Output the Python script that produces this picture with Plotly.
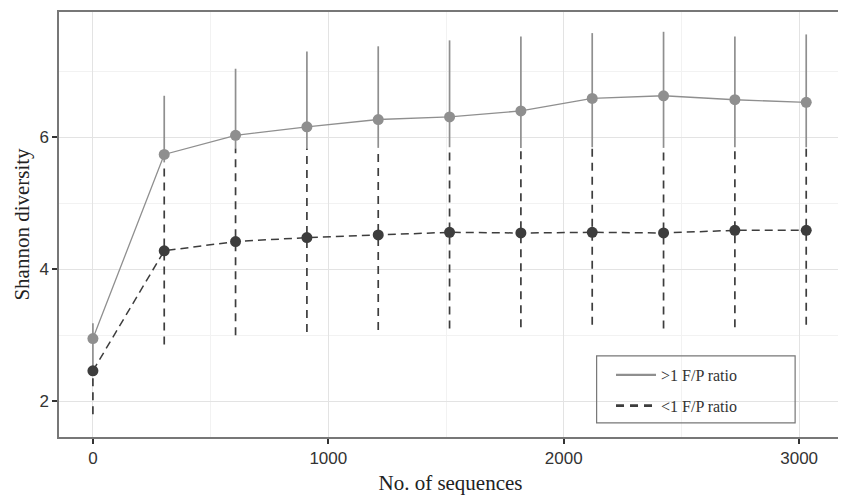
import plotly.graph_objects as go

# Data
seqs = [0, 303, 606, 909, 1212, 1515, 1818, 2121, 2424, 2727, 3030]
high_mean = [2.95, 5.74, 6.03, 6.16, 6.27, 6.31, 6.40, 6.59, 6.63, 6.57, 6.53]
high_upper = [3.18, 6.63, 7.04, 7.30, 7.38, 7.47, 7.53, 7.58, 7.60, 7.53, 7.56]
high_lower = [2.50, 5.62, 5.83, 5.83, 5.84, 5.85, 5.84, 5.85, 5.84, 5.85, 5.85]
low_mean = [2.46, 4.28, 4.42, 4.48, 4.52, 4.56, 4.55, 4.56, 4.55, 4.59, 4.59]
low_upper = [2.50, 5.62, 5.83, 5.83, 5.84, 5.85, 5.84, 5.85, 5.84, 5.85, 5.85]
low_lower = [1.80, 2.86, 3.00, 3.05, 3.08, 3.10, 3.12, 3.16, 3.10, 3.12, 3.16]
series_names = [">1 F/P ratio", "&lt;1 F/P ratio"]

GRAY = "#8f8f8f"
DARK = "#3d3d3d"


def segs(xs, lo, hi):
    X, Y = [], []
    for xi, a, b in zip(xs, lo, hi):
        X += [xi, xi, None]
        Y += [a, b, None]
    return X, Y


fig = go.Figure()

# error bars
ex, ey = segs(seqs, high_lower, high_upper)
fig.add_trace(go.Scatter(x=ex, y=ey, mode="lines", line=dict(color=GRAY, width=1.7),
                         showlegend=False, hoverinfo="skip"))
ex, ey = segs(seqs, low_lower, low_upper)
fig.add_trace(go.Scatter(x=ex, y=ey, mode="lines", line=dict(color=DARK, width=1.7, dash="8px,6px"),
                         showlegend=False, hoverinfo="skip"))

# lines + points
fig.add_trace(go.Scatter(x=seqs, y=high_mean, mode="lines+markers",
                         line=dict(color=GRAY, width=1.3),
                         marker=dict(color=GRAY, size=11, symbol="circle"),
                         showlegend=False))
fig.add_trace(go.Scatter(x=seqs, y=low_mean, mode="lines+markers",
                         line=dict(color=DARK, width=1.5, dash="8px,5px"),
                         marker=dict(color=DARK, size=11, symbol="circle"),
                         showlegend=False))

# legend entries
fig.add_trace(go.Scatter(x=[None], y=[None], mode="lines", name=series_names[0],
                         line=dict(color=GRAY, width=2.2), legendgroup="a"))
fig.add_trace(go.Scatter(x=[None], y=[None], mode="lines", name=series_names[1],
                         line=dict(color=DARK, width=2.6, dash="8px,6px"), legendgroup="b"))

# page body has an 8px margin, so the figure is 8px smaller and offset
fig.update_layout(
    width=838, height=487,
    margin=dict(l=51, r=2, t=2, b=53),
    paper_bgcolor="white", plot_bgcolor="white",
    font=dict(family="Liberation Sans, Arial", color="#333333"),
    showlegend=True,
    legend=dict(x=0.705, y=0.186, xanchor="left", yanchor="top",
                bgcolor="rgba(0,0,0,0)", borderwidth=0,
                font=dict(family="Liberation Serif, Times New Roman", size=16, color="#333333"),
                itemwidth=40, tracegroupgap=7),
    shapes=[dict(type="rect", xref="paper", yref="paper",
                 x0=(598 - 59) / 785, x1=(797 - 59) / 785,
                 y0=(434 - 420) / 424, y1=(434 - 353) / 424,
                 line=dict(color="#777777", width=1.2), fillcolor="rgba(0,0,0,0)")],
)

fig.update_xaxes(
    range=[-144, 3182],
    tickvals=[0, 1000, 2000, 3000], ticktext=["0", "1000", "2000", "3000"],
    ticks="outside", ticklen=5, tickcolor="#333333", tickwidth=1.5,
    tickfont=dict(family="Liberation Sans, Arial", size=17, color="#333333"),
    showgrid=True, gridcolor="#e3e3e3", gridwidth=1.2,
    minor=dict(tickvals=[500, 1500, 2500], showgrid=True, gridcolor="#f2f2f2", gridwidth=1),
    showline=True, linecolor="#777777", linewidth=1.5, mirror=True,
    zeroline=False,
    title=dict(text="No. of sequences", font=dict(family="Liberation Serif, Times New Roman", size=21, color="#222222"),
               standoff=10),
)
fig.update_yaxes(
    range=[1.457, 7.90],
    tickvals=[2, 4, 6], ticktext=["2", "4", "6"],
    ticks="outside", ticklen=5, tickcolor="#333333", tickwidth=1.5,
    tickfont=dict(family="Liberation Sans, Arial", size=17, color="#333333"),
    showgrid=True, gridcolor="#e3e3e3", gridwidth=1.2,
    minor=dict(tickvals=[3, 5, 7], showgrid=True, gridcolor="#f2f2f2", gridwidth=1),
    showline=True, linecolor="#777777", linewidth=1.5, mirror=True,
    zeroline=False,
    title=dict(text="Shannon diversity", font=dict(family="Liberation Serif, Times New Roman", size=21, color="#222222"),
               standoff=4),
)

fig.write_html("out.html")
